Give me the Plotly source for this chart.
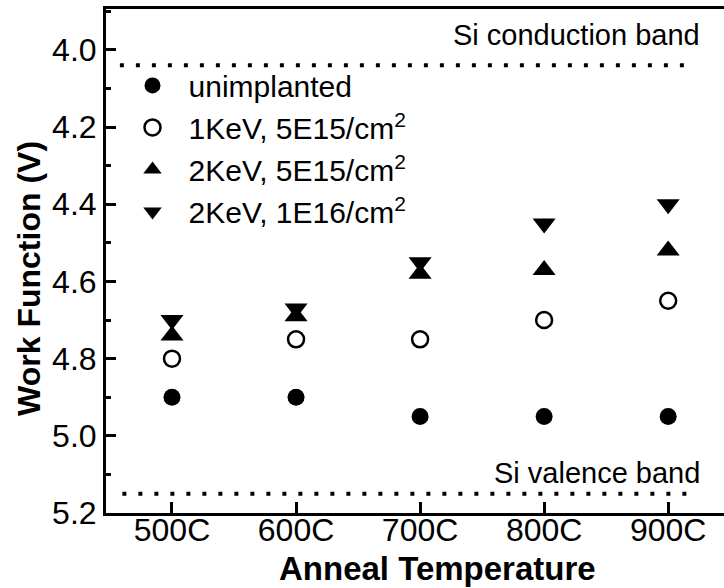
import plotly.graph_objects as go

temps = ["500C", "600C", "700C", "800C", "900C"]
unimplanted = [4.90, 4.90, 4.95, 4.95, 4.95]
kev1_5e15 = [4.80, 4.75, 4.75, 4.70, 4.65]
kev2_5e15 = [4.74, 4.69, 4.58, 4.57, 4.52]
kev2_1e16 = [4.70, 4.67, 4.55, 4.45, 4.40]

series_names = ["unimplanted", "1KeV, 5E15/cm<sup>2</sup>",
                "2KeV, 5E15/cm<sup>2</sup>", "2KeV, 1E16/cm<sup>2</sup>"]
y_ticks = [4.0, 4.2, 4.4, 4.6, 4.8, 5.0, 5.2]
conduction_band = 4.04
valence_band = 5.15

FONT = "Liberation Sans, Arial, sans-serif"

fig = go.Figure()
fig.add_trace(go.Scatter(x=temps, y=unimplanted, mode="markers", name=series_names[0],
                         marker=dict(symbol="circle", size=17, color="black")))
fig.add_trace(go.Scatter(x=temps, y=kev1_5e15, mode="markers", name=series_names[1],
                         marker=dict(symbol="circle-open", size=16, color="black",
                                     line=dict(width=2.5, color="black"))))
fig.add_trace(go.Scatter(x=temps, y=kev2_5e15, mode="markers", name=series_names[2],
                         marker=dict(symbol="triangle-up", size=20, color="black")))
fig.add_trace(go.Scatter(x=temps, y=kev2_1e16, mode="markers", name=series_names[3],
                         marker=dict(symbol="triangle-down", size=20, color="black")))

# band edges (dotted)
fig.add_shape(type="line", xref="x", yref="y", x0=-0.42, x1=4.22,
              y0=conduction_band, y1=conduction_band,
              line=dict(color="black", width=4, dash="4px,12px"))
fig.add_shape(type="line", xref="x", yref="y", x0=-0.40, x1=4.18,
              y0=valence_band, y1=valence_band,
              line=dict(color="black", width=4, dash="4px,12px"))

fig.add_annotation(text="Si conduction band", xref="x", yref="y",
                   x=4.27, y=conduction_band, xanchor="right", yanchor="bottom",
                   yshift=12, showarrow=False, font=dict(family=FONT, size=29, color="black"))
fig.add_annotation(text="Si valence band", xref="x", yref="y",
                   x=4.27, y=valence_band, xanchor="right", yanchor="bottom",
                   yshift=3, showarrow=False, font=dict(family=FONT, size=29, color="black"))

# axis titles
fig.add_annotation(text="<b>Anneal Temperature</b>", xref="paper", yref="paper",
                   x=0.536, y=-0.111, xanchor="center", yanchor="middle", showarrow=False,
                   font=dict(family=FONT, size=33, color="black"))
fig.add_annotation(text="<b>Work Function (V)</b>", xref="paper", yref="paper",
                   x=-0.125, y=0.466, xanchor="center", yanchor="middle", textangle=-90,
                   showarrow=False, font=dict(family=FONT, size=32, color="black"))

fig.update_layout(
    width=724, height=588,
    margin=dict(l=106, r=0, t=9, b=75),
    plot_bgcolor="white", paper_bgcolor="white",
    font=dict(family=FONT, color="black"),
    showlegend=True,
    legend=dict(x=0.017, y=0.9, xanchor="left", yanchor="top",
                bgcolor="rgba(0,0,0,0)", font=dict(family=FONT, size=30, color="black"),
                itemsizing="trace", itemwidth=62),
    xaxis=dict(range=[-0.532, 4.45], showline=True, linewidth=3, linecolor="black",
               mirror=True, ticks="inside", ticklen=11, tickwidth=2.5, tickcolor="black",
               showgrid=False, zeroline=False, ticklabelstandoff=-13,
               tickfont=dict(family=FONT, size=32, color="black")),
    yaxis=dict(range=[5.2, 3.894], showline=True, linewidth=3, linecolor="black",
               mirror=False, ticks="inside", ticklen=10, tickwidth=2.5, tickcolor="black",
               tickvals=y_ticks, tickformat=".1f",
               minor=dict(dtick=0.1, ticks="inside", ticklen=5, tickwidth=2.5, tickcolor="black"),
               showgrid=False, zeroline=False,
               tickfont=dict(family=FONT, size=32, color="black")),
)

fig.write_html("out.html")
